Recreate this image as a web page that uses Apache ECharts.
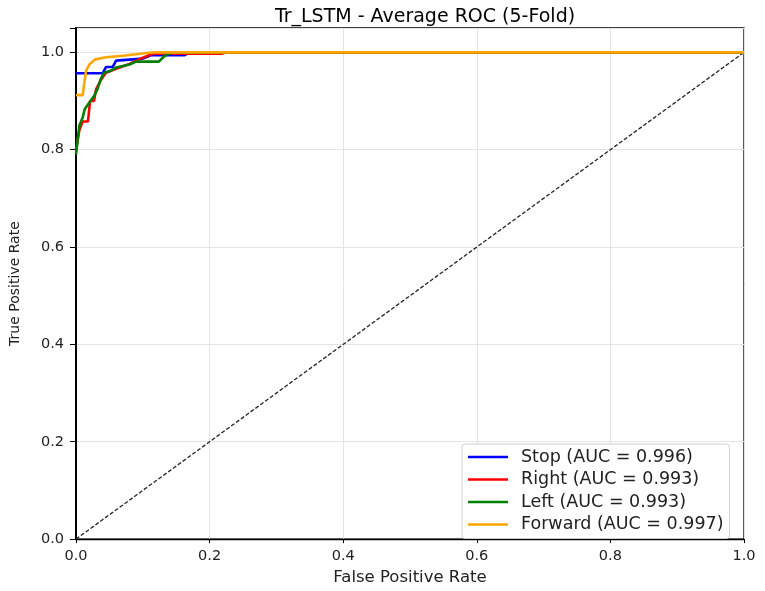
<!DOCTYPE html>
<html>
<head>
<meta charset="utf-8">
<title>Tr_LSTM ROC</title>
<script src="https://cdn.jsdelivr.net/npm/echarts@6/dist/echarts.min.js"></script>
<style>
  html, body { margin: 0; padding: 0; background: #fff; }
  #roc { width: 765px; height: 591px; }
</style>
</head>
<body>
<div id="roc"></div>
<script>
// averaged ROC curves, [fpr, tpr] knots
var stopRoc = [[0, 0.957], [0.04, 0.957], [0.045, 0.970], [0.055, 0.970], [0.06, 0.983],
    [0.10, 0.987], [0.112, 0.994], [0.162, 0.994], [0.17, 1.0], [1, 1.0]];
var rightRoc = [[0, 0.80], [0.005, 0.84], [0.01, 0.858], [0.018, 0.858], [0.021, 0.90],
    [0.027, 0.90], [0.03, 0.924], [0.038, 0.945], [0.045, 0.958], [0.06, 0.966],
    [0.08, 0.976], [0.10, 0.989], [0.115, 0.997], [0.218, 0.997], [0.225, 1.0], [1, 1.0]];
var leftRoc = [[0, 0.79], [0.005, 0.849], [0.01, 0.866], [0.013, 0.883], [0.02, 0.897],
    [0.027, 0.91], [0.032, 0.924], [0.037, 0.945], [0.042, 0.958], [0.052, 0.962],
    [0.06, 0.969], [0.07, 0.972], [0.08, 0.975], [0.09, 0.981], [0.124, 0.981],
    [0.133, 0.993], [0.143, 1.0], [1, 1.0]];
var forwardRoc = [[0, 0.912], [0.01, 0.912], [0.015, 0.962], [0.02, 0.975], [0.028, 0.985],
    [0.045, 0.990], [0.07, 0.993], [0.09, 0.996], [0.11, 0.999], [0.12, 1.0], [1, 1.0]];
var chanceLine = [[0, 0], [1, 1]];

var names = ['Stop (AUC = 0.996)', 'Right (AUC = 0.993)', 'Left (AUC = 0.993)', 'Forward (AUC = 0.997)'];
var colors = ['#0000ff', '#ff0000', '#008000', '#ffa500'];
var curves = [stopRoc, rightRoc, leftRoc, forwardRoc];

var myChart = echarts.init(document.getElementById('roc'));
var font = 'DejaVu Sans';

var series = [{
    name: 'chance',
    type: 'line',
    data: chanceLine,
    symbol: 'none',
    silent: true,
    lineStyle: { color: '#222', width: 1.3, type: [4, 2] }
}];
curves.forEach(function (c, i) {
    series.push({
        name: names[i],
        type: 'line',
        data: c,
        symbol: 'none',
        color: colors[i],
        lineStyle: { color: colors[i], width: 2.6 }
    });
});

var option = {
    animation: false,
    textStyle: { fontFamily: font },
    title: {
        text: 'Tr_LSTM - Average ROC (5-Fold)',
        left: 420,
        top: 3,
        textAlign: 'center',
        textStyle: { fontFamily: font, fontSize: 19, fontWeight: 'normal', color: '#000' }
    },
    grid: {
        left: 74,
        right: 21,
        top: 28,
        bottom: 50,
        show: true,
        borderColor: '#000',
        borderWidth: 1.3
    },
    legend: {
        data: names,
        orient: 'vertical',
        left: 462,
        top: 444,
        icon: 'rect',
        itemWidth: 40,
        itemHeight: 2.6,
        itemGap: 4.5,
        padding: [4, 6, 5, 6],
        backgroundColor: '#fff',
        borderColor: '#d0d0d0',
        borderWidth: 1,
        borderRadius: 3,
        textStyle: { fontFamily: font, fontSize: 17.5, lineHeight: 17.5, color: '#222', padding: [0, 0, 0, 8] }
    },
    xAxis: {
        type: 'value',
        min: 0,
        max: 1,
        interval: 0.2,
        name: 'False Positive Rate',
        nameLocation: 'middle',
        nameGap: 29,
        nameTextStyle: { fontFamily: font, fontSize: 16.5, color: '#222' },
        axisLine: { show: true, onZero: false, lineStyle: { color: '#000', width: 1.3 } },
        axisTick: { show: true, length: 4, lineStyle: { color: '#000' } },
        axisLabel: {
            fontSize: 14.5, color: '#222', margin: 10,
            formatter: function (v) { return v.toFixed(1); }
        },
        splitLine: { show: true, lineStyle: { color: '#e4e4e4' } }
    },
    yAxis: {
        type: 'value',
        min: 0,
        max: 1.05,
        interval: 0.2,
        name: 'True Positive Rate',
        nameLocation: 'middle',
        nameGap: 54,
        nameTextStyle: { fontFamily: font, fontSize: 14, color: '#222' },
        axisLine: { show: true, onZero: false, lineStyle: { color: '#000', width: 2 } },
        axisTick: { show: true, length: 6, lineStyle: { color: '#000' } },
        axisLabel: {
            fontSize: 14.5, color: '#222', margin: 12,
            formatter: function (v) {
                return Math.abs(v / 0.2 - Math.round(v / 0.2)) < 1e-6 ? v.toFixed(1) : '';
            }
        },
        splitLine: { show: true, lineStyle: { color: '#e4e4e4' } }
    },
    series: series
};

option && myChart.setOption(option);
</script>
</body>
</html>
